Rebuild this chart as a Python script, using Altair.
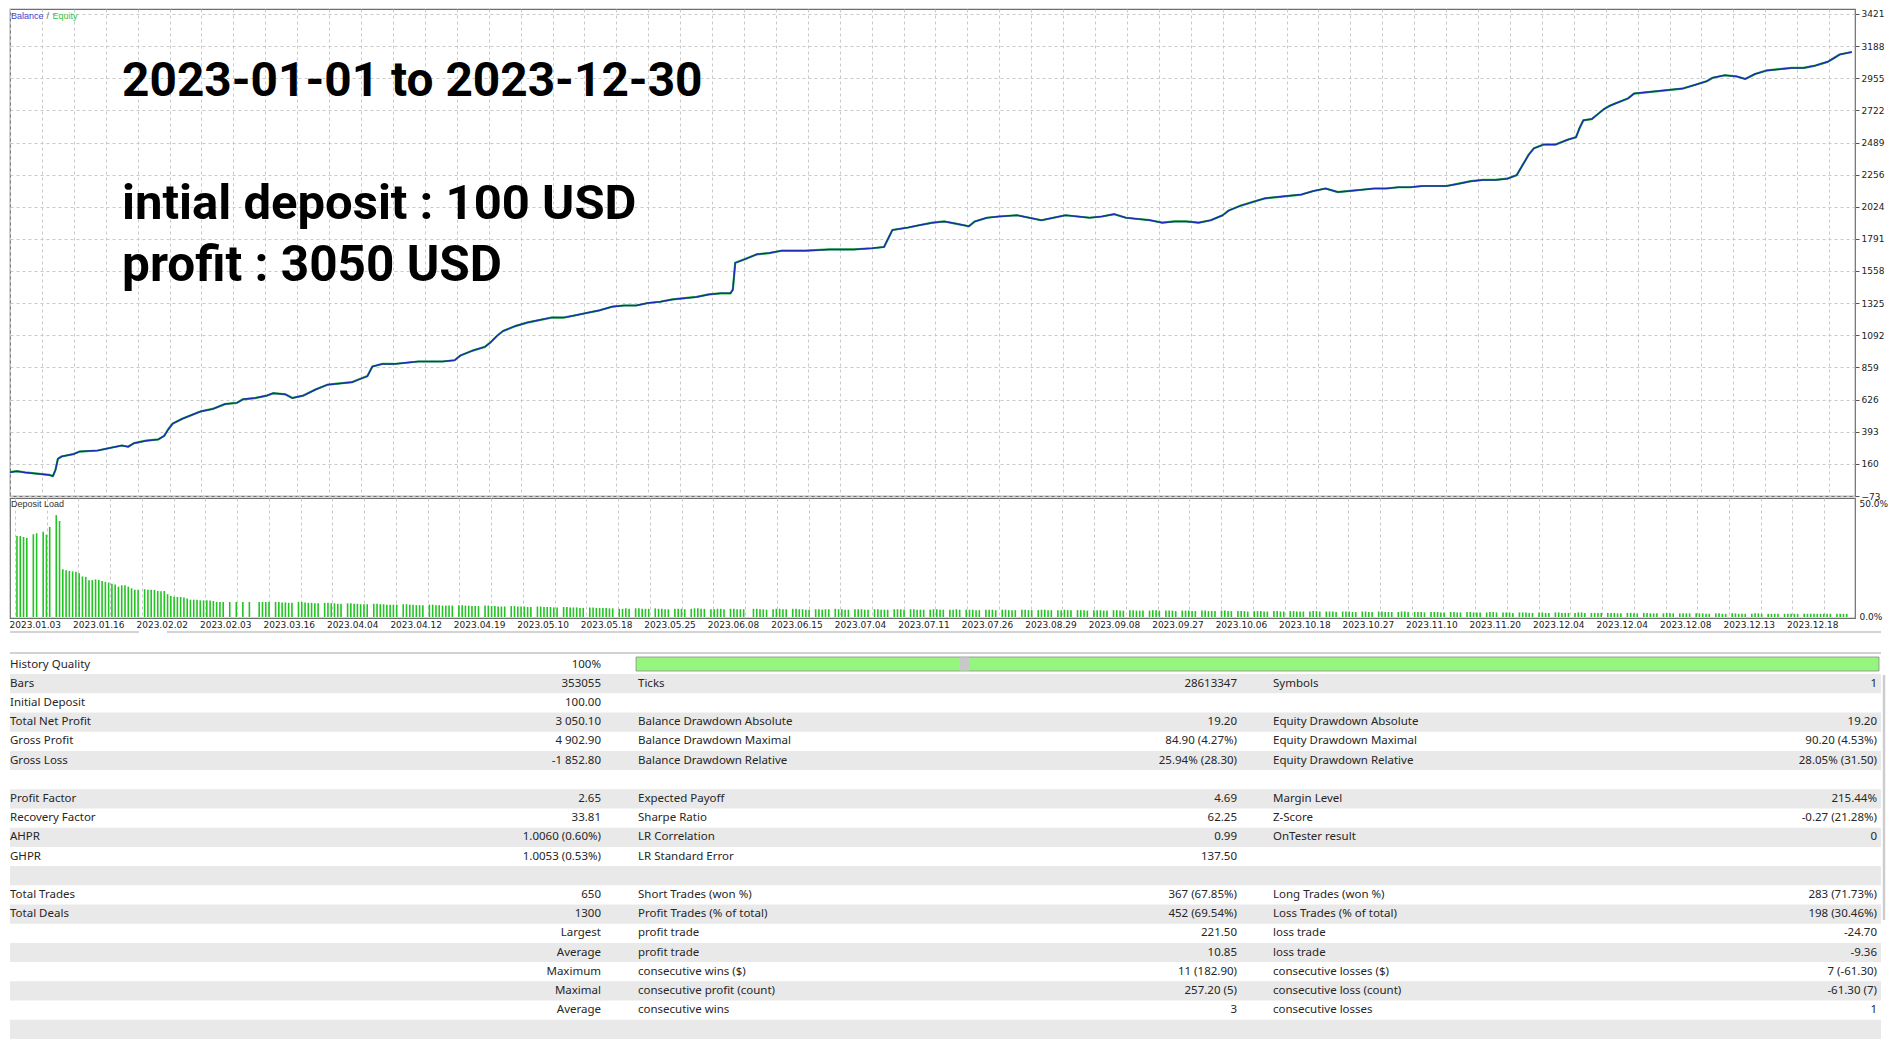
import altair as alt
import pandas as pd

# ---------------- data ----------------
x_labels = ["2023.01.03", "2023.01.16", "2023.02.02", "2023.02.03", "2023.03.16", "2023.04.04",
            "2023.04.12", "2023.04.19", "2023.05.10", "2023.05.18", "2023.05.25", "2023.06.08",
            "2023.06.15", "2023.07.04", "2023.07.11", "2023.07.26", "2023.08.29", "2023.09.08",
            "2023.09.27", "2023.10.06", "2023.10.18", "2023.10.27", "2023.11.10", "2023.11.20",
            "2023.12.04", "2023.12.04", "2023.12.08", "2023.12.13", "2023.12.18"]
y_ticks = [-73, 160, 393, 626, 859, 1092, 1325, 1558, 1791, 2024, 2256, 2489, 2722, 2955, 3188, 3421]

# position along the tester chart (deal-slot units) and balance (USD)
curve_x = [0, 3.4, 7.6, 13.7, 19.7, 21.5, 22.8, 24, 25.8, 31.9, 34.9, 44, 50, 56.1, 59.2, 62.2, 68.2,
           74.3, 77.3, 79.2, 81.6, 86.4, 89.5, 95.5, 101.6, 107.7, 113.7, 116.8, 122.8, 128.9, 131.9,
           138, 141.6, 147.1, 153.2, 159.2, 165.3, 171.4, 174.4, 179.2, 181.7, 186.5, 192.6, 198.6,
           204.7, 210.8, 216.8, 222.9, 225.9, 232, 238.1, 241.1, 244.1, 247.2, 253.2, 259.3, 265.4,
           271.4, 277.5, 283.6, 289.6, 295.7, 301.8, 307.8, 313.9, 319.9, 326, 332.1, 338.1, 344.2,
           350.3, 356.3, 361.2, 362.4, 363.6, 368.5, 374.5, 380.6, 386.7, 398.8, 410.9, 423, 432.1,
           438.2, 440, 442.4, 450.3, 456.4, 462.5, 468.5, 474.6, 480.7, 483.7, 489.8, 495.8, 504.9,
           511, 517.1, 523.1, 529.2, 535.3, 541.3, 547.4, 553.5, 559.5, 565.6, 571.6, 577.7, 583.8,
           589.8, 595.9, 602, 608, 611.1, 617.1, 623.2, 629.3, 635.3, 641.4, 647.5, 653.5, 659.6,
           665.7, 671.7, 677.8, 683.9, 689.9, 696, 702, 708.1, 714.2, 720.2, 726.3, 732.4, 738.4,
           744.5, 750.6, 755.4, 757.9, 761.5, 764, 768.8, 774.8, 780.9, 785.1, 787, 788.8, 793, 796,
           799, 802.1, 805.1, 811.2, 814.2, 820.3, 826.4, 832.4, 838.5, 844.6, 850.6, 853.7, 859.7,
           865.8, 870, 874.9, 880.9, 887, 893.1, 899.2, 905.2, 911.3, 914.3, 917.3, 920.4, 923.4]
balance = [100, 107, 98, 89, 80, 71, 116, 196, 213, 231, 249, 257, 275, 293, 284, 310, 328,
           337, 363, 407, 452, 487, 505, 540, 558, 593, 602, 628, 637, 655, 672,
           664, 637, 655, 699, 734, 743, 752, 769, 796, 866, 884, 884, 893,
           902, 902, 902, 911, 946, 981, 1008, 1043, 1087, 1123, 1158, 1184, 1202,
           1220, 1220, 1237, 1255, 1273, 1299, 1308, 1308, 1326, 1335, 1352, 1361, 1370,
           1388, 1396, 1396, 1423, 1617, 1644, 1679, 1688, 1705, 1705, 1714, 1714, 1723,
           1732, 1785, 1855, 1873, 1891, 1908, 1917, 1900, 1882, 1917, 1944, 1953, 1962,
           1944, 1926, 1944, 1962, 1953, 1944, 1953, 1970, 1944, 1935, 1926, 1908, 1917,
           1917, 1908, 1926, 1962, 1997, 2032, 2059, 2085, 2094, 2103, 2112, 2138, 2156,
           2130, 2138, 2147, 2156, 2156, 2165, 2165, 2174, 2174, 2174, 2191, 2209, 2218,
           2218, 2227, 2253, 2315, 2403, 2447, 2474, 2474, 2509, 2527, 2597, 2650, 2659, 2694,
           2730, 2756, 2774, 2809, 2844, 2853, 2862, 2871, 2880, 2906, 2933, 2959, 2977,
           2968, 2950, 2986, 3012, 3021, 3030, 3030, 3047, 3074, 3100, 3127, 3136, 3145]

# deposit load (%) per deal slot, 0 = no bar
load_q1 = [35.5, 35.5, 35.1, 34.6, 0, 36.3, 36.7, 0, 37.4, 36.1, 39.5, 0, 44.7, 42.1, 20.9, 20.5,
           20.2, 20.0, 19.9, 19.2, 17.8, 17.6, 16.1, 16.2, 16.5, 16.2, 15.8, 15.4, 15.1, 14.6, 14.3,
           13.3, 13.9, 13.9, 13.3, 12.6, 12.0, 12.0, 0, 12.2, 12.0, 11.9, 11.9, 11.4, 11.3, 11.4,
           10.0, 9.2, 8.9, 8.8, 8.8, 8.5, 8.1, 7.6, 7.6, 7.6, 7.3, 7.3, 7.3, 7.2, 7.0, 6.6, 6.6,
           6.6, 0, 6.6, 0, 6.6, 0, 6.6, 0, 6.6, 0, 0, 6.6]
load_q2 = [6.6, 6.6, 6.6, 0, 6.6, 6.6, 6.4, 6.4, 6.2, 6.2, 0, 6.6, 6.6, 6.4, 6.2, 6.2, 6.0, 6.0, 0, 6.2,
           6.2, 6.0, 6.0, 5.8, 5.8, 0, 6.0, 6.0, 5.8, 5.8, 5.6, 5.6, 5.6, 0, 5.8, 5.8, 5.6, 5.6, 5.4, 5.4,
           5.4, 5.4, 0, 5.6, 5.6, 5.4, 5.4, 5.2, 5.2, 5.2, 0, 5.4, 5.4, 5.2, 5.2, 5.0, 5.0, 5.0, 5.0, 0,
           5.2, 5.2, 5.0, 5.0, 4.8, 4.8, 4.8, 0, 5.0, 5.0, 4.8, 4.8, 4.6, 4.6, 4.6, 0, 4.8, 4.8, 4.6, 4.6,
           4.6, 4.4, 4.4, 0, 4.6, 4.6, 4.4, 4.4, 4.4, 4.2, 4.2, 0, 4.4, 4.4, 4.2, 4.2, 4.2, 4.0, 4.0, 0,
           4.2, 4.2, 4.0, 4.0, 4.0, 4.0]
load_q3 = [3.8, 3.8, 0, 3.6, 3.6, 3.8, 3.6, 0, 3.8, 3.8, 3.6, 3.6, 3.6, 0, 3.8, 3.6, 3.6, 3.4, 3.4, 0,
           3.6, 3.6, 3.6, 3.4, 0, 3.6, 3.8, 3.8, 3.6, 3.6, 0, 3.4, 3.4, 3.6, 3.6, 3.4, 0, 3.6, 3.6, 3.4,
           3.4, 3.4, 0, 0, 3.6, 3.6, 3.4, 3.4, 3.2, 0, 3.4, 3.6, 3.6, 3.4, 3.4, 0, 3.6, 3.6, 3.4, 3.4,
           3.2, 3.2, 0, 3.4, 3.4, 3.2, 3.4, 3.4, 0, 3.6, 3.4, 3.4, 3.2, 3.2, 0, 3.4, 3.4, 3.4, 3.2, 3.2,
           0, 3.4, 3.4, 3.2, 3.2, 3.2, 0, 3.4, 3.4, 3.4, 3.2, 0, 3.4, 3.4, 3.2, 3.2, 3.2, 0, 3.2, 3.4,
           3.4, 3.2, 3.2, 0, 3.2, 3.2, 3.4, 3.2, 0, 3.2, 3.2, 3.2, 3.0, 3.0, 0, 3.2, 3.2, 3.2, 3.0, 0,
           3.2, 3.2, 3.0, 3.0, 3.0, 0, 3.2, 3.2, 3.0, 3.0, 0, 3.0, 3.2, 3.2, 3.0, 3.0, 0, 3.0, 3.0, 3.2,
           3.0, 3.0, 0, 3.0, 3.0, 3.0, 2.8, 0, 3.0, 3.0, 3.0, 2.8, 2.8, 0, 3.0, 3.0, 2.8, 2.8, 0, 3.0,
           3.0, 2.8, 2.8, 2.8, 0, 2.8, 3.0, 3.0, 2.8, 0, 2.8, 2.8, 2.8, 2.6, 0, 2.8, 2.8, 2.8, 2.6, 2.6,
           0, 2.8, 2.8, 2.6, 2.6]
load_q4 = [2.6, 0, 2.8, 2.8, 2.6, 2.6, 0, 2.6, 2.6, 2.6, 2.4, 0, 2.6, 2.6, 2.6, 2.4, 2.4, 0, 2.6, 2.6,
           2.4, 2.4, 0, 2.6, 2.6, 2.4, 2.4, 2.4, 0, 2.4, 2.6, 2.6, 2.4, 0, 2.4, 2.4, 2.4, 2.2, 0, 2.4,
           2.4, 2.4, 2.2, 2.2, 0, 2.4, 2.4, 2.2, 2.2, 0, 2.4, 2.4, 2.2, 2.2, 2.2, 0, 2.2, 2.4, 2.4, 2.2,
           0, 2.2, 2.2, 2.2, 2.0, 0, 2.2, 2.2, 2.2, 2.0, 2.0, 0, 2.2, 2.2, 2.0, 2.0, 0, 2.2, 2.2, 2.0,
           2.0, 2.0, 0, 2.0, 2.2, 2.2, 2.0, 0, 2.0, 2.0, 2.0, 1.8, 0, 2.0, 2.0, 2.0, 1.8, 1.8, 0, 2.0,
           2.0, 1.8, 1.8, 0, 2.0, 2.0, 1.8, 1.8, 1.8, 0, 1.8, 2.0, 2.0, 1.8, 0, 1.8, 1.8, 1.8, 1.8, 0,
           1.8, 1.8, 1.8, 1.6, 1.6, 0, 1.8, 1.8, 1.6, 1.6, 0, 1.8, 1.8, 1.6, 1.6, 1.6, 0, 1.6, 1.8, 1.8,
           1.6, 0, 1.6, 1.6, 1.6, 1.6, 0, 1.6, 1.6, 1.6, 1.4, 1.4, 0, 1.6, 1.6, 1.4, 1.4, 0, 1.6, 1.6,
           1.4, 1.4, 1.4, 0, 1.4, 1.6, 1.6, 1.4, 0, 1.4, 1.4, 1.4, 1.4, 0, 1.4, 1.4, 1.4, 1.4, 1.4, 0,
           1.4, 1.4, 1.4, 1.4, 1.4, 1.4, 1.4, 1.4, 1.4, 0, 1.4, 1.4, 1.4, 1.4]

# report table: (row, label, value)
col_a = [(0, "History Quality", "100%"), (1, "Bars", "353055"), (2, "Initial Deposit", "100.00"),
         (3, "Total Net Profit", "3 050.10"), (4, "Gross Profit", "4 902.90"),
         (5, "Gross Loss", "-1 852.80"), (7, "Profit Factor", "2.65"), (8, "Recovery Factor", "33.81"),
         (9, "AHPR", "1.0060 (0.60%)"), (10, "GHPR", "1.0053 (0.53%)"), (12, "Total Trades", "650"),
         (13, "Total Deals", "1300"), (14, "", "Largest"), (15, "", "Average"), (16, "", "Maximum"),
         (17, "", "Maximal"), (18, "", "Average")]
col_b = [(1, "Ticks", "28613347"), (3, "Balance Drawdown Absolute", "19.20"),
         (4, "Balance Drawdown Maximal", "84.90 (4.27%)"),
         (5, "Balance Drawdown Relative", "25.94% (28.30)"), (7, "Expected Payoff", "4.69"),
         (8, "Sharpe Ratio", "62.25"), (9, "LR Correlation", "0.99"), (10, "LR Standard Error", "137.50"),
         (12, "Short Trades (won %)", "367 (67.85%)"), (13, "Profit Trades (% of total)", "452 (69.54%)"),
         (14, "profit trade", "221.50"), (15, "profit trade", "10.85"),
         (16, "consecutive wins ($)", "11 (182.90)"), (17, "consecutive profit (count)", "257.20 (5)"),
         (18, "consecutive wins", "3")]
col_c = [(1, "Symbols", "1"), (3, "Equity Drawdown Absolute", "19.20"),
         (4, "Equity Drawdown Maximal", "90.20 (4.53%)"),
         (5, "Equity Drawdown Relative", "28.05% (31.50)"), (7, "Margin Level", "215.44%"),
         (8, "Z-Score", "-0.27 (21.28%)"), (9, "OnTester result", "0"),
         (12, "Long Trades (won %)", "283 (71.73%)"), (13, "Loss Trades (% of total)", "198 (30.46%)"),
         (14, "loss trade", "-24.70"), (15, "loss trade", "-9.36"),
         (16, "consecutive losses ($)", "7 (-61.30)"), (17, "consecutive loss (count)", "-61.30 (7)"),
         (18, "consecutive losses", "1")]
band_rows = [1, 3, 5, 7, 9, 11, 13, 15, 17, 19]

# ---------------- styling ----------------
AX_FONT = "DejaVu Sans"
SM_FONT = "Liberation Sans"
TB_FONT = "Noto Sans"
NOTE_FONT = "Roboto"
GRID = "#c9c9c9"
W, H_MAIN, H_LOAD = 1845, 487, 120
XMAX = 925

xscale = alt.Scale(domain=[0, XMAX], nice=False, zero=False)
yscale = alt.Scale(domain=[-73, 3457], nice=False, zero=False)
grid_vals = list(range(0, 913, 16))
label_arr = "[" + ",".join("'%s'" % s for s in x_labels) + "]"

x_axis_main = alt.Axis(values=grid_vals, labels=False, ticks=False, domain=False, grid=True,
                       gridDash=[3, 3], gridColor=GRID, title=None)
x_axis_load = alt.Axis(values=grid_vals, ticks=False, tickSize=0, domain=False, grid=True,
                       gridDash=[3, 3], gridColor=GRID, title=None,
                       labelExpr="datum.value % 32 == 0 ? " + label_arr + "[datum.value / 32] : ''",
                       labelAlign="left", labelOffset=-6, labelFont=AX_FONT, labelFontSize=9,
                       labelColor="#222", labelPadding=2, labelOverlap=False, labelFlush=False,
                       labelBound=False)
y_axis_main = alt.Axis(orient="right", values=y_ticks, format="d", grid=True, gridDash=[3, 3],
                       gridColor=GRID, domain=False, ticks=True, tickSize=4, tickColor="#555",
                       labelPadding=2, labelFont=AX_FONT, labelFontSize=9, labelColor="#222",
                       title=None, labelOverlap=False, labelFlush=False, labelBound=False)

curve = pd.DataFrame({"x": curve_x, "balance": balance})
X_ENC = alt.X("x:Q", scale=xscale, axis=x_axis_main)
Y_ENC = alt.Y("balance:Q", scale=yscale, axis=y_axis_main)

equity_line = alt.Chart(curve).mark_line(
    color="#2fbf2f", strokeWidth=2.2, clip=True, strokeJoin="round").encode(x=X_ENC, y=Y_ENC)
balance_line = alt.Chart(curve).mark_line(
    color="#1a2db4", strokeWidth=1.5, clip=True, strokeJoin="round").encode(x=X_ENC, y=Y_ENC)

one = pd.DataFrame({"k": [0]})

def note(text, xv, yv, size):
    return alt.Chart(one).mark_text(align="left", baseline="alphabetic", font=NOTE_FONT,
                                    fontWeight="bold", fontSize=size, color="#000000").encode(
        x=alt.XDatum(xv, scale=xscale, axis=x_axis_main),
        y=alt.YDatum(yv, scale=yscale, axis=y_axis_main),
        text=alt.value(text))

note1 = note("2023-01-01 to 2023-12-30", 56.2, 2830, 47.8)
note2 = note("intial deposit : 100 USD", 56.2, 1932, 49)
note3 = note("profit : 3050 USD", 56.2, 1482, 49.5)

leg_style = dict(align="left", baseline="middle", font=SM_FONT, fontSize=9)
leg1 = alt.Chart(one).mark_text(color="#4646cc", **leg_style).encode(
    x=alt.value(1), y=alt.value(7), text=alt.value("Balance"))
leg2 = alt.Chart(one).mark_text(color="#666666", **leg_style).encode(
    x=alt.value(36.5), y=alt.value(7), text=alt.value("/"))
leg3 = alt.Chart(one).mark_text(color="#3cc43c", **leg_style).encode(
    x=alt.value(42.5), y=alt.value(7), text=alt.value("Equity"))

main = alt.layer(equity_line, balance_line, note1, note2, note3, leg1, leg2, leg3).properties(
    width=W, height=H_MAIN, view=alt.ViewBackground(stroke="#6e6e6e", strokeWidth=1.2, fill="white"))

# deposit load panel
load_vals = load_q1 + load_q2 + load_q3 + load_q4
load = pd.DataFrame({"slot": list(range(len(load_vals))), "pct": load_vals})
load_bars = alt.Chart(load).transform_filter("datum.pct > 0").transform_calculate(
    x="1 + 1.65 * datum.slot").mark_bar(size=1.6, color="#22c322").encode(
    x=alt.X("x:Q", scale=xscale, axis=x_axis_load),
    y=alt.Y("pct:Q", scale=alt.Scale(domain=[-0.44, 52.2], nice=False, zero=False),
            axis=alt.Axis(orient="right", values=[0, 50], grid=False, domain=False, ticks=False,
                          labelExpr="format(datum.value, '.1f') + '%'", labelFont=AX_FONT,
                          labelFontSize=9, labelColor="#222", labelPadding=4, title=None,
                          labelFlush=False, labelOverlap=False)),
    y2=alt.datum(0))
load_title = alt.Chart(one).mark_text(color="#333333", **leg_style).encode(
    x=alt.value(1), y=alt.value(6), text=alt.value("Deposit Load"))
deposit = alt.layer(load_bars, load_title).properties(
    width=W, height=H_LOAD, view=alt.ViewBackground(stroke="#6e6e6e", strokeWidth=1.2, fill="white"))

# report table
TW, TH = 1872, 429
ty = alt.Scale(domain=[-2.318, 20.026], nice=False, zero=False, reverse=True)
bands = alt.Chart(pd.DataFrame({"row": band_rows})).transform_calculate(
    r0="datum.row - 0.5", r1="datum.row + 0.5").mark_rect(color="#e9e9e9").encode(
    x=alt.value(0), x2=alt.value(1871),
    y=alt.Y("r0:Q", scale=ty, axis=None), y2="r1:Q")
sep1a = alt.Chart(one).mark_rule(color="#c4c4c4", strokeWidth=1.5).encode(
    x=alt.value(0), x2=alt.value(129), y=alt.value(12))
sep1b = alt.Chart(one).mark_rule(color="#c4c4c4", strokeWidth=1.5).encode(
    x=alt.value(157), x2=alt.value(1871), y=alt.value(12))
sep2 = alt.Chart(one).mark_rule(color="#d2d2d2", strokeWidth=2).encode(
    x=alt.value(0), x2=alt.value(1871), y=alt.value(33))
scroll = alt.Chart(one).mark_rule(color="#cdcdcd", strokeWidth=2.5).encode(
    x=alt.value(1874), y=alt.value(55), y2=alt.value(300))
hq_bar = alt.Chart(one).mark_rect(color="#96f57e", stroke="#8a8a8a", strokeWidth=0.8).encode(
    x=alt.value(626), x2=alt.value(1869), y=alt.value(37), y2=alt.value(51))
hq_gap = alt.Chart(one).mark_rect(color="#c8c8c8").encode(
    x=alt.value(950), x2=alt.value(959), y=alt.value(37.5), y2=alt.value(50.5))

def col_layers(rows, label_x, value_x):
    df = pd.DataFrame(rows, columns=["row", "label", "value"])
    st = dict(baseline="middle", font=TB_FONT, fontSize=11.5, color="#262626")
    lab = alt.Chart(df).mark_text(align="left", **st).encode(
        x=alt.value(label_x), y=alt.Y("row:Q", scale=ty, axis=None), text="label:N")
    val = alt.Chart(df).mark_text(align="right", **st).encode(
        x=alt.value(value_x), y=alt.Y("row:Q", scale=ty, axis=None), text="value:N")
    return [lab, val]

table = alt.layer(bands, sep1a, sep1b, sep2, scroll, hq_bar, hq_gap,
                  *col_layers(col_a, 0, 591), *col_layers(col_b, 628, 1227),
                  *col_layers(col_c, 1263, 1867)).properties(
    width=TW, height=TH, view=alt.ViewBackground(strokeWidth=0))

chart = alt.vconcat(main, deposit, table, spacing=2, bounds="flush").properties(
    padding=0, background="white")

chart.save("out.html", embed_options={"renderer": "svg", "actions": False})
